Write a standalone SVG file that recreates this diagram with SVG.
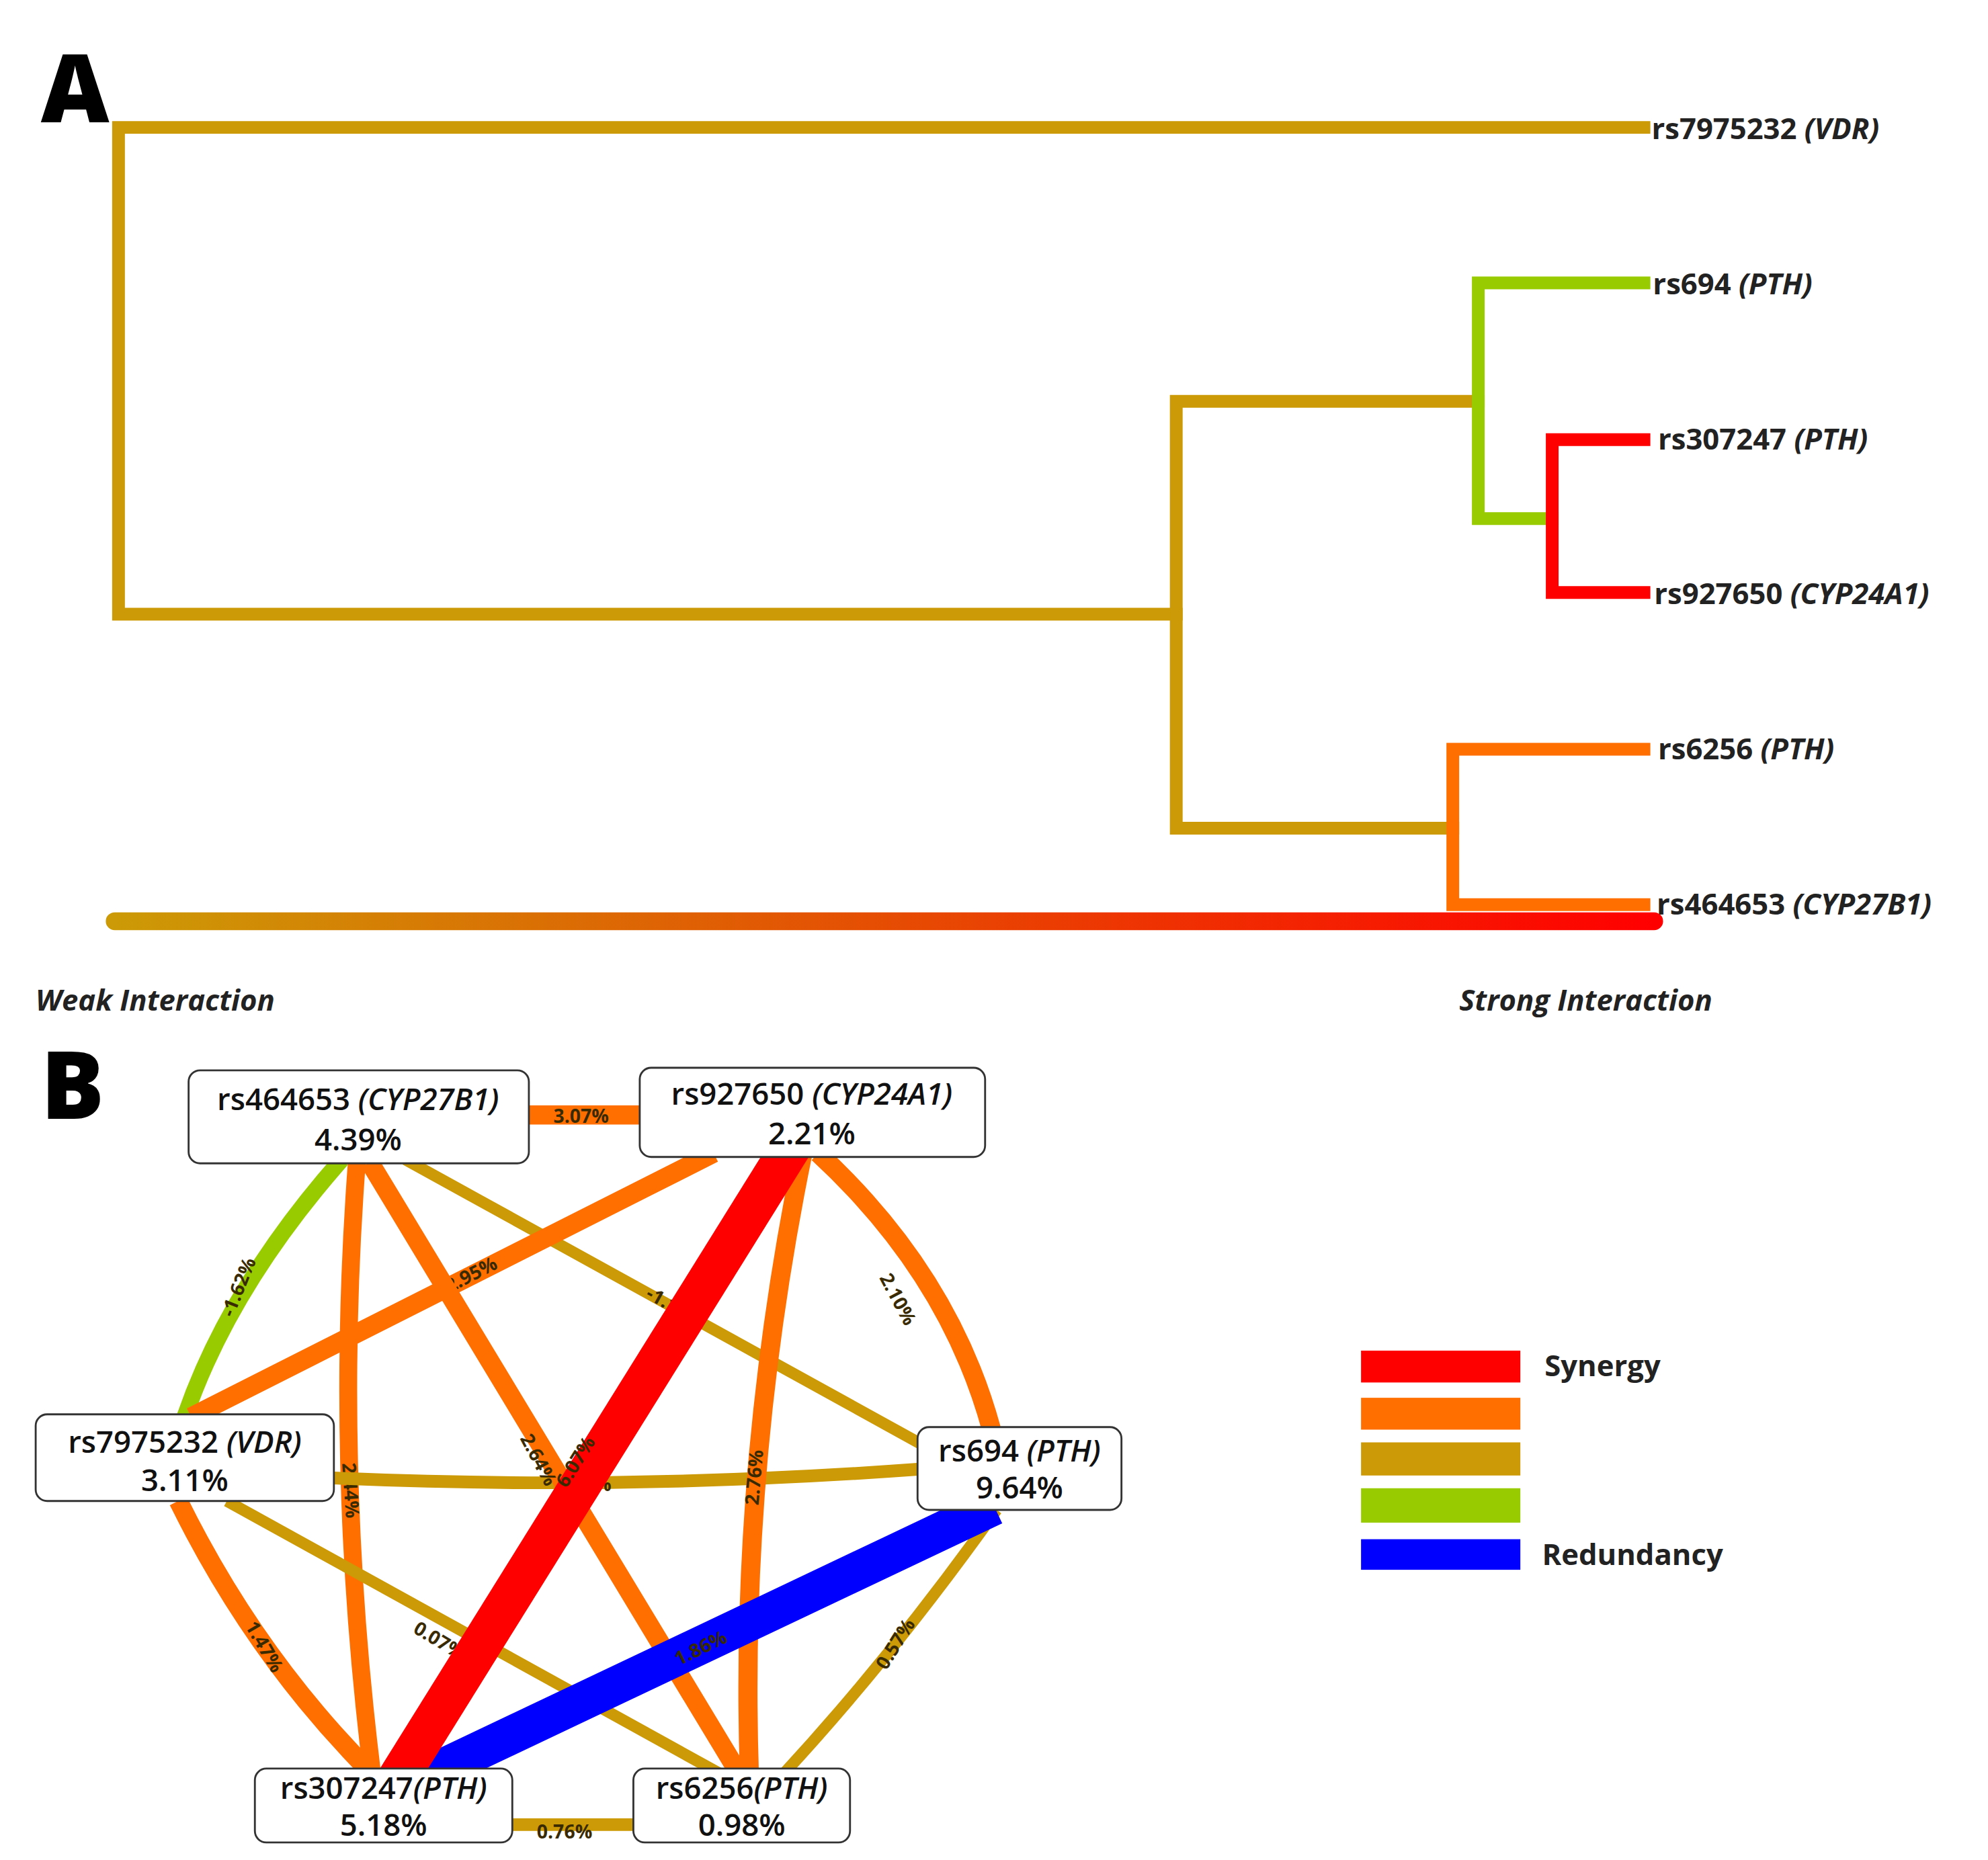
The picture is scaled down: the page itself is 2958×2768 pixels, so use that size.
<svg xmlns="http://www.w3.org/2000/svg" width="2958" height="2768" viewBox="0 0 2958 2768">
<style>
.t{stroke-width:10;fill:none;stroke-linecap:square}
.g{stroke:#cc9a06}.gr{stroke:#99cc00}.r{stroke:#ff0000}.o{stroke:#ff6f00}.b{stroke:#0000ff}
.lab{font-family:"Open Sans","Liberation Sans",sans-serif;font-weight:700;font-size:23px;fill:#222}
.it{font-style:italic}
.nt{font-family:"Open Sans","Liberation Sans",sans-serif;font-weight:600;font-size:24px;fill:#111;text-anchor:middle}
.box{fill:#fff;stroke:#333;stroke-width:1.5}
.el{font-family:"Open Sans","Liberation Sans",sans-serif;font-weight:700;font-size:15px;fill:#3a2a00;text-anchor:middle}
.e{fill:none}
</style>
<defs><linearGradient id="gr" gradientUnits="userSpaceOnUse" x1="90" y1="0" x2="1298" y2="0"><stop offset="0" stop-color="#cc9a06"/><stop offset="1" stop-color="#ff0000"/></linearGradient></defs>
<rect width="2958" height="2768" fill="#fff"/>
<g transform="scale(1.8962)">
<text x="32" y="96" font-family="Open Sans, Liberation Sans, sans-serif" font-weight="800" font-size="74">A</text>
<text x="32" y="878" font-family="Open Sans, Liberation Sans, sans-serif" font-weight="800" font-size="74">B</text>
<g id="tree">
<path class="t g" d="M1290,100H93V482H923"/>
<path class="t g" d="M1160,315H923V650H1140"/>
<path class="t gr" d="M1290,222H1160V407H1218"/>
<path class="t r" d="M1290,345H1218V465H1290"/>
<path class="t o" d="M1290,588H1140V710H1290"/>
</g>
<g id="tree-labels">
<text class="lab" x="1296" y="109">rs7975232 <tspan class="it">(VDR)</tspan></text>
<text class="lab" x="1297" y="231">rs694  <tspan class="it">(PTH)</tspan></text>
<text class="lab" x="1301" y="353">rs307247 <tspan class="it">(PTH)</tspan></text>
<text class="lab" x="1298" y="474">rs927650 <tspan class="it">(CYP24A1)</tspan></text>
<text class="lab" x="1301" y="596">rs6256  <tspan class="it">(PTH)</tspan></text>
<text class="lab" x="1300" y="718">rs464653 <tspan class="it">(CYP27B1)</tspan></text>
</g>
<line x1="90" y1="723" x2="1298" y2="723" stroke="url(#gr)" stroke-width="14" stroke-linecap="round"/>
<text class="lab it" x="28" y="793">Weak Interaction</text>
<text class="lab it" x="1145" y="793">Strong Interaction</text>
<g id="connectors">
<path class="e" stroke="#ff6f00" stroke-width="15" d="M410,875H505"/><text class="el" x="456" y="881">3.07%</text>
<path class="e" stroke="#99cc00" stroke-width="13" d="M268,910Q180,1010 145,1112"/><text class="el" transform="translate(192,1012) rotate(-68)">-1.62%</text>
<path class="e" stroke="#cc9a06" stroke-width="9" d="M318,910L735,1140"/><text class="el" transform="translate(527,1030) rotate(29)">-1.14%</text>
<path class="e" stroke="#ff6f00" stroke-width="15" d="M560,905L150,1112"/><text class="el" transform="translate(372,1005) rotate(-27)">2.95%</text>
<path class="e" stroke="#ff6f00" stroke-width="14" d="M280,912Q262,1150 292,1392"/><text class="el" transform="translate(270,1170) rotate(86)">2.44%</text>
<path class="e" stroke="#cc9a06" stroke-width="10" d="M262,1160Q490,1170 722,1153"/><text class="el" transform="translate(458,1170)">0.11%</text>
<path class="e" stroke="#ff6f00" stroke-width="15" d="M290,912L580,1392"/><text class="el" transform="translate(418,1148) rotate(62)">2.64%</text>
<path class="e" stroke="#ff6f00" stroke-width="15" d="M642,905Q745,1000 778,1122"/><text class="el" transform="translate(700,1022) rotate(62)">2.10%</text>
<path class="e" stroke="#ff6f00" stroke-width="15" d="M630,905Q580,1150 588,1392"/><text class="el" transform="translate(597,1160) rotate(-85)">2.76%</text>
<path class="e" stroke="#cc9a06" stroke-width="9" d="M178,1178L565,1392"/><text class="el" transform="translate(342,1292) rotate(31)">0.07%</text>
<path class="e" stroke="#ff6f00" stroke-width="15" d="M140,1178Q200,1300 292,1392"/><text class="el" transform="translate(203,1295) rotate(60)">1.47%</text>
<path class="e" stroke="#cc9a06" stroke-width="9" d="M782,1185Q700,1300 615,1392"/><text class="el" transform="translate(707,1293) rotate(-58)">0.57%</text>
<path class="e" stroke="#0000ff" stroke-width="30" d="M780,1182L325,1398"/><text class="el" transform="translate(552,1298) rotate(-26)">1.86%</text>
<path class="e" stroke="#ff0000" stroke-width="32" d="M622,898L312,1396"/><text class="el" transform="translate(456,1150) rotate(-58)">6.07%</text>
<path class="e" stroke="#cc9a06" stroke-width="10" d="M400,1432H500"/><text class="el" x="443" y="1443">0.76%</text>
</g>
<g id="n464653"><rect class="box" x="148" y="840" width="267" height="73" rx="9"/><text class="nt" x="281" y="871">rs464653 <tspan class="it">(CYP27B1)</tspan></text><text class="nt" x="281" y="903">4.39%</text></g>
<g id="n927650"><rect class="box" x="502" y="838" width="271" height="70" rx="9"/><text class="nt" x="637" y="867">rs927650 <tspan class="it">(CYP24A1)</tspan></text><text class="nt" x="637" y="898">2.21%</text></g>
<g id="n7975232"><rect class="box" x="28" y="1110" width="234" height="68" rx="9"/><text class="nt" x="145" y="1140">rs7975232 <tspan class="it">(VDR)</tspan></text><text class="nt" x="145" y="1170">3.11%</text></g>
<g id="n694"><rect class="box" x="720" y="1120" width="160" height="65" rx="9"/><text class="nt" x="800" y="1147">rs694 <tspan class="it">(PTH)</tspan></text><text class="nt" x="800" y="1176">9.64%</text></g>
<g id="n307247"><rect class="box" x="200" y="1388" width="202" height="58" rx="9"/><text class="nt" x="301" y="1412">rs307247<tspan class="it">(PTH)</tspan></text><text class="nt" x="301" y="1441">5.18%</text></g>
<g id="n6256"><rect class="box" x="497" y="1388" width="170" height="58" rx="9"/><text class="nt" x="582" y="1412">rs6256<tspan class="it">(PTH)</tspan></text><text class="nt" x="582" y="1441">0.98%</text></g>
<g id="legend">
<rect x="1068" y="1060" width="125" height="25" fill="#ff0000"/>
<rect x="1068" y="1097" width="125" height="25" fill="#ff6f00"/>
<rect x="1068" y="1132" width="125" height="26" fill="#cc9a06"/>
<rect x="1068" y="1168" width="125" height="27" fill="#99cc00"/>
<rect x="1068" y="1208" width="125" height="24" fill="#0000ff"/>
<text class="lab" x="1212" y="1080">Synergy</text>
<text class="lab" x="1210" y="1228">Redundancy</text>
</g>
</g>
</svg>
